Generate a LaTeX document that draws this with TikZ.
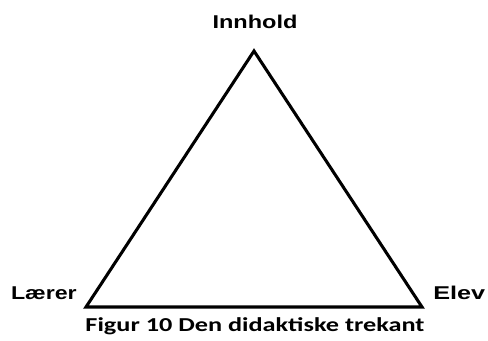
\documentclass[tikz,border=0pt]{standalone}
\usepackage{fontspec}
\setmainfont{Liberation Sans}
\newfontfamily\labelfont{Liberation Sans}
\newfontfamily\captionfont{Carlito}
\usetikzlibrary{positioning}

% tekst er strukket i bredden i originalen
\newcommand{\wide}[2]{\scalebox{#1}[1]{#2}}

\begin{document}
\begin{tikzpicture}[
            x=0.75pt, y=-0.75pt,
            corner/.style={font=\labelfont\fontsize{13.9}{16}\selectfont\bfseries, inner sep=0pt},
            caption/.style={font=\captionfont\fontsize{14.8}{17}\selectfont\bfseries, inner sep=0pt},
            side/.style={line width=2.3pt, line join=miter}
        ]
            \useasboundingbox (0,0) rectangle (488,340);

            % --- HJØRNER ---
            \coordinate (top) at (254,51);
            \coordinate (left) at (86,307);
            \coordinate (right) at (422,307);

            % --- TEKST ---
            \node[corner, anchor=base] (innhold) at (255,28) {\wide{1.27}{Innhold}};
            \node[corner, anchor=base east] (laerer) at (77,299) {\wide{1.25}{Lærer}};
            \node[corner, anchor=base west] (elev) at (433,299) {\wide{1.36}{Elev}};
            \node[caption, anchor=base] (figur) at (255,331) {\wide{1.33}{Figur 10 Den didaktiske trekant}};

            % --- TREKANT ---
            \draw[side] (left) -- (top) -- (right) -- cycle;

        \end{tikzpicture}
\end{document}
